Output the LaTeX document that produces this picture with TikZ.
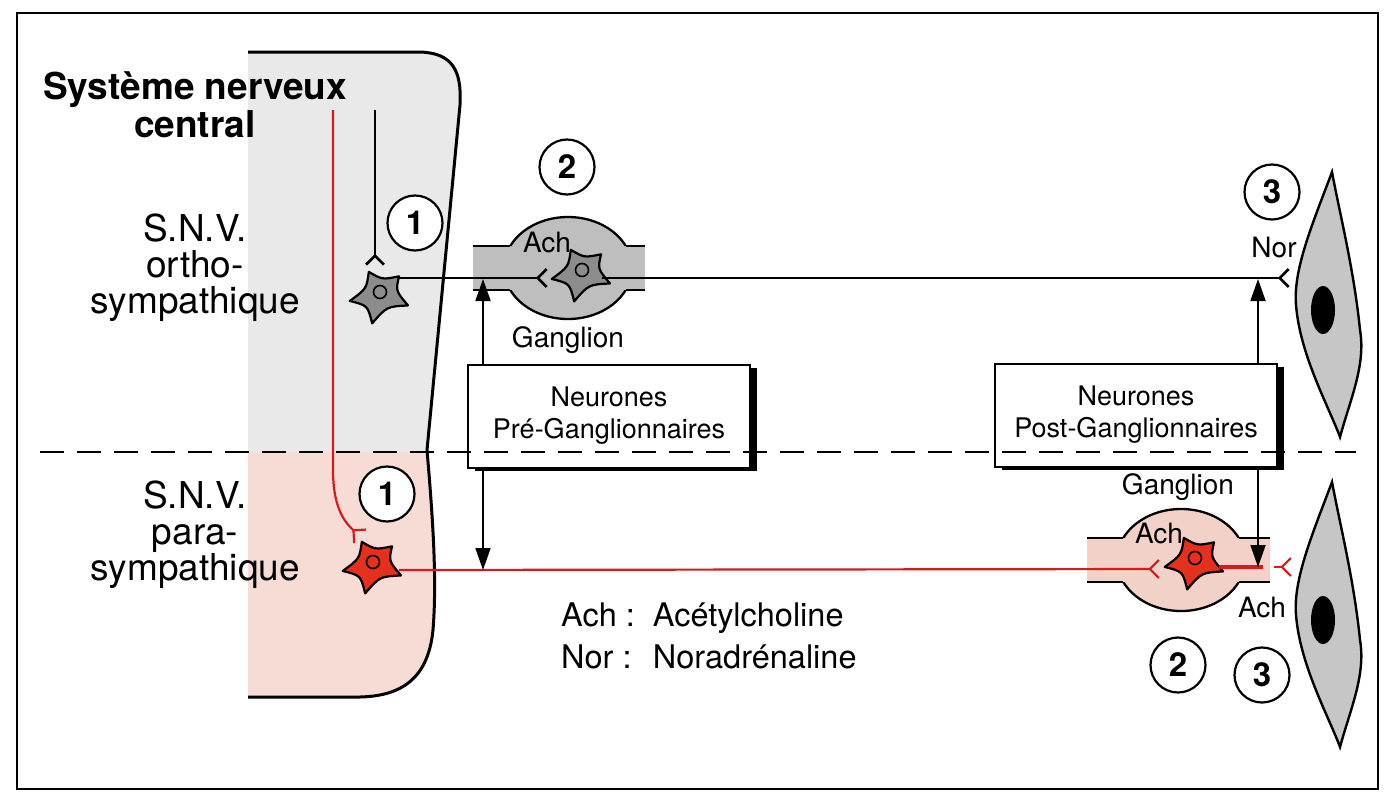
\documentclass[tikz,border=0pt]{standalone}
\usepackage{fontspec}
\setmainfont{TeX Gyre Heros}
\usetikzlibrary{arrows.meta,shadows,positioning}

\definecolor{cnsGray}{RGB}{233,233,233}
\definecolor{cnsPink}{RGB}{246,220,213}
\definecolor{gangGray}{RGB}{190,190,190}
\definecolor{gangPink}{RGB}{242,210,200}
\definecolor{nrnGray}{RGB}{140,140,140}
\definecolor{nrnRed}{RGB}{228,48,28}
\definecolor{axRed}{RGB}{212,28,28}
\definecolor{cellGray}{RGB}{198,198,198}

\newcommand{\CnsPath}{(248,52) -- (420,52) .. controls (452,53) and (462,70) .. (460,105) -- (427,450) .. controls (433,520) and (437,580) .. (433,630) .. controls (428,680) and (400,696) .. (360,697) -- (248,697)}

% neuron: name, centre, fill
\newcommand{\Neuron}[3]{%
  \draw[NeuronStyle, fill=#3, shift={(#2)}, scale=1.12] (-10,-18) .. controls (2,-11) .. (17,-14) .. controls (14,-1) .. (25,12) .. controls (6,13) .. (-7,28) .. controls (-11,12) .. (-27,8) .. controls (-12,-3) .. (-10,-18) -- cycle;
  \node[NucleusStyle] (#1) at (#2) {};}

% ganglion: name, centre, band left, band right, fill
\newcommand{\Ganglion}[5]{%
  \coordinate (#1) at (#2);
  \begin{scope}[shift={(#2)}]
    \fill[#5] (#3,-22) rectangle (#4,22);
    \draw[GangStyle] (#3,-22) -- (#4,-22) (#3,22) -- (#4,22);
    \fill[#5] (0,0) ellipse [x radius=64, y radius=51];
    \begin{scope}
      \clip (-80,-60) rectangle (80,-22) (-80,22) rectangle (80,60);
      \draw[GangStyle] (0,0) ellipse [x radius=64, y radius=51];
    \end{scope}
  \end{scope}}

% effector cell: vertical offset
\newcommand{\Cell}[1]{%
  \begin{scope}[shift={(0,#1)}]
    \draw[CellStyle] (1332,172) .. controls (1312,225) and (1293,270) .. (1296,305) .. controls (1300,355) and (1328,405) .. (1340,437) .. controls (1350,400) and (1366,365) .. (1360,330) .. controls (1354,270) and (1340,215) .. (1332,172) -- cycle;
    \fill (1323,310) ellipse [x radius=12, y radius=24];
  \end{scope}}

\begin{document}
\begin{tikzpicture}[x=1pt,y=-1pt]
    \tikzset{NeuronStyle/.style={draw, line width=2.2pt, line join=round},
        NucleusStyle/.style={circle, draw, line width=1.6pt, minimum size=13pt, inner sep=0pt},
        GangStyle/.style={line width=2.3pt},
        CellStyle/.style={draw, fill=cellGray, line width=2.4pt},
        AxonStyle/.style={line width=2.6pt},
        RedAxonStyle/.style={line width=2.2pt, draw=axRed},
        SynTip/.style={-{Straight Barb[reversed, length=9pt, width=18pt]}},
        ArrowStyle/.style={line width=1.8pt, -{Triangle[length=22pt, width=15pt]}},
        NumStyle/.style={circle, draw, fill=white, line width=2.2pt, minimum size=55pt, inner sep=0pt, font=\bfseries\fontsize{33}{33}\selectfont},
        BoxStyle/.style={draw, fill=white, line width=2pt, minimum width=282pt, minimum height=103pt, align=center, font=\fontsize{27}{32}\selectfont, drop shadow={shadow xshift=7pt, shadow yshift=-3pt, fill=black, opacity=1}},
        LabelStyle/.style={font=\fontsize{28}{30}\selectfont},
        SideStyle/.style={align=center, font=\fontsize{37}{36}\selectfont},
        DashStyle/.style={line width=2.2pt, dash pattern=on 24pt off 13pt}}
    \useasboundingbox (0,0) rectangle (1396,804);
    \draw[line width=2.6pt] (17,13) rectangle (1378,789);

    % central nervous system
    \begin{scope}
        \clip \CnsPath -- cycle;
        \fill[cnsGray] (240,40) rectangle (470,452);
        \fill[cnsPink] (240,452) rectangle (470,710);
    \end{scope}
    \draw[line width=3pt] \CnsPath;
    \node[align=center, font=\bfseries\fontsize{37}{38}\selectfont] (sncLbl) at (195,105) {Système nerveux\\central};
    \node[SideStyle] (orthoLbl) at (195,268) {S.N.V.\\ortho-\\sympathique};
    \node[SideStyle] (paraLbl) at (195,535) {S.N.V.\\para-\\sympathique};

    % ganglions
    \Ganglion{gangOrtho}{568,268}{-95}{77}{gangGray}
    \Ganglion{gangPara}{1181,560}{-94}{89}{gangPink}
    \node[LabelStyle, xshift=-21pt, yshift=26pt] at (gangOrtho) {Ach};
    \node[LabelStyle, yshift=-72pt] at (gangOrtho) {Ganglion};
    \node[LabelStyle, xshift=-22pt, yshift=27pt] at (gangPara) {Ach};
    \node[LabelStyle, xshift=-3pt, yshift=73pt] at (gangPara) {Ganglion};

    % neurones
    \Neuron{nOrtho}{380,292}{nrnGray}
    \Neuron{gOrtho}{582,270}{nrnGray}
    \Neuron{nPara}{373,562}{nrnRed}
    \Neuron{gPara}{1195,558}{nrnRed}

    % effector cells
    \Cell{0}
    \Cell{310}

    % fibres
    \coordinate (topBlk) at (375,110);
    \coordinate (synBlk) at (375,266);
    \coordinate (topRed) at (333,110);
    \coordinate (synRed) at (361,537);
    \coordinate (synPre) at (548,278);
    \coordinate (synNor) at (1290,278);
    \coordinate (synPara) at (1160,569);
    \coordinate (synEff) at (1292,567);
    \draw[AxonStyle, SynTip] (topBlk) -- (synBlk);
    \draw[RedAxonStyle, SynTip] (topRed) -- (333,470) .. controls (333,505) and (343,521) .. (synRed);
    \draw[AxonStyle, SynTip] (nOrtho.center) ++(18,-14) -- (synPre);
    \draw[AxonStyle, SynTip] (gOrtho.center) ++(20,8) -- (synNor);
    \draw[RedAxonStyle, SynTip] (nPara.center) ++(26,8) -- (synPara);

    % boxes and arrows
    \node[BoxStyle] (preBox) at (609,416) {Neurones\\Pré-Ganglionnaires};
    \node[BoxStyle] (postBox) at (1136,415) {Neurones\\Post-Ganglionnaires};
    \coordinate (preUp) at (483,279);
    \coordinate (preDown) at (483,570);
    \coordinate (postUp) at (1258,279);
    \coordinate (postDown) at (1258,567);
    \draw[RedAxonStyle, line width=4.5pt] (gPara.center) ++(24,9) -- ([xshift=5pt]postDown);
    \draw[RedAxonStyle, SynTip, shorten <=16pt] (postDown) -- (synEff);
    \draw[ArrowStyle] (preBox.north -| preUp) -- (preUp);
    \draw[ArrowStyle] (preBox.south -| preDown) -- (preDown);
    \draw[ArrowStyle] (postBox.north -| postUp) -- (postUp);
    \draw[ArrowStyle] (postBox.south -| postDown) -- (postDown);
    \node[LabelStyle] (norLbl) at (1274,247) {Nor};
    \node[LabelStyle] (achLbl) at (1262,607) {Ach};

    % numbers
    \node[NumStyle] (c1a) at (415,223) {1};
    \node[NumStyle] (c1b) at (387,494) {1};
    \node[NumStyle] (c2a) at (567,167) {2};
    \node[NumStyle] (c2b) at (1178,665) {2};
    \node[NumStyle] (c3a) at (1272,192) {3};
    \node[NumStyle] (c3b) at (1262,675) {3};

    \coordinate (dashL) at (40,452);
    \coordinate (dashR) at (1356,452);
    \draw[DashStyle] (dashL) -- (dashR);

    % legend
    \node[anchor=west, inner sep=0pt, font=\fontsize{32.5}{42}\selectfont] (legend) at (561,639) {\begin{tabular}{@{}l@{\hspace{18pt}}l@{}}Ach : & Acétylcholine\\Nor : & Noradrénaline\end{tabular}};
\end{tikzpicture}
\end{document}
